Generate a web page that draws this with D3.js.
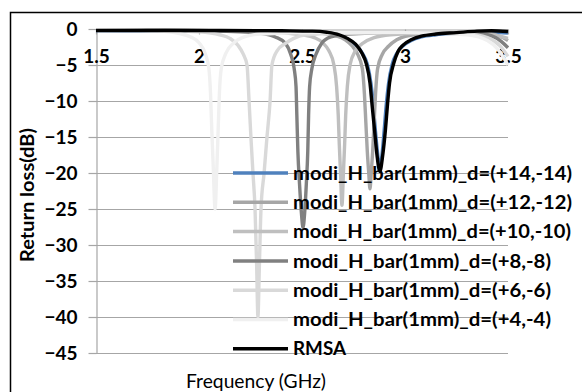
<!DOCTYPE html>
<html>
<head>
<meta charset="utf-8">
<script src="https://cdn.jsdelivr.net/npm/d3@7"></script>
<style>
  body { margin: 0; background: #fff; }
  svg { display: block; font-family: Lato, "Noto Sans", sans-serif; }
</style>
</head>
<body>
<svg id="chart" width="582" height="392"></svg>
<script>
// Return loss vs frequency
var xTicks = [1.5, 2, 2.5, 3, 3.5];
var yTicks = [0, -5, -10, -15, -20, -25, -30, -35, -40, -45];

var seriesNames = [
    "modi_H_bar(1mm)_d=(+14,-14)",
    "modi_H_bar(1mm)_d=(+12,-12)",
    "modi_H_bar(1mm)_d=(+10,-10)",
    "modi_H_bar(1mm)_d=(+8,-8)",
    "modi_H_bar(1mm)_d=(+6,-6)",
    "modi_H_bar(1mm)_d=(+4,-4)",
    "RMSA"
];
var seriesColors = ["#4f81bd", "#a6a6a6", "#bfbfbf", "#808080", "#d9d9d9", "#f0f0f0", "#000000"];

// [GHz, dB]
var d14 = [[1.5,-0.2],[1.8,-0.25],[2.1,-0.3],[2.4,-0.35],[2.55,-0.4],[2.62,-0.55],[2.68,-0.9],[2.72,-1.4],[2.76,-2.2],[2.794,-3.4],[2.817,-4.9],[2.835,-7.6],[2.846,-10.5],[2.856,-14],[2.867,-17.3],[2.878,-19.3],[2.889,-17.3],[2.899,-14],[2.909,-10.5],[2.92,-7.6],[2.938,-4.9],[2.96,-3.4],[2.988,-2.4],[3.03,-1.6],[3.08,-1.1],[3.15,-0.8],[3.25,-0.6],[3.35,-0.45],[3.42,-0.45],[3.5,-0.55]];
var d12 = [[1.5,-0.1],[1.9,-0.2],[2.2,-0.3],[2.45,-0.4],[2.6,-0.6],[2.66,-0.9],[2.71,-1.5],[2.745,-2.4],[2.77,-3.5],[2.793,-5.5],[2.803,-9],[2.81,-13],[2.817,-17],[2.824,-20],[2.83,-22.2],[2.836,-20],[2.843,-17],[2.85,-13],[2.857,-9],[2.867,-5.5],[2.89,-3.5],[2.92,-2.4],[2.96,-1.5],[3.02,-0.9],[3.12,-0.6],[3.3,-0.5],[3.4,-0.6],[3.46,-1.0],[3.5,-1.6]];
var d10 = [[1.5,-0.1],[1.9,-0.2],[2.2,-0.3],[2.4,-0.5],[2.5,-0.8],[2.56,-1.2],[2.6,-1.9],[2.63,-3],[2.655,-5],[2.668,-8],[2.676,-12],[2.681,-16],[2.687,-20],[2.694,-24.5],[2.701,-20],[2.707,-16],[2.712,-12],[2.72,-8],[2.733,-5],[2.76,-3],[2.8,-1.9],[2.85,-1.2],[2.93,-0.8],[3.1,-0.6],[3.3,-0.6],[3.42,-0.8],[3.5,-1.3]];
var d8 = [[1.5,-0.1],[2.0,-0.2],[2.2,-0.4],[2.3,-0.6],[2.37,-1.1],[2.42,-2],[2.445,-3.5],[2.462,-5.5],[2.471,-8],[2.475,-12],[2.48,-17],[2.488,-21.5],[2.497,-25.5],[2.505,-27.6],[2.513,-25.5],[2.521,-21.5],[2.528,-17],[2.532,-12],[2.537,-8],[2.548,-5.5],[2.568,-3.5],[2.595,-2],[2.64,-1.1],[2.72,-0.7],[3.0,-0.5],[3.35,-0.6],[3.44,-1.2],[3.5,-2.6]];
var d6 = [[1.5,-0.1],[1.8,-0.2],[2.0,-0.4],[2.1,-0.8],[2.15,-1.3],[2.19,-2.3],[2.215,-3.5],[2.233,-5],[2.243,-10],[2.252,-15],[2.262,-20],[2.272,-25],[2.28,-33],[2.286,-40],[2.293,-33],[2.301,-25],[2.316,-20],[2.33,-15],[2.345,-10],[2.354,-5],[2.38,-3],[2.42,-2],[2.46,-1.3],[2.52,-0.8],[2.7,-0.6],[3.0,-0.5],[3.3,-0.7],[3.4,-1.2],[3.46,-2.3],[3.5,-3.8]];
var d4 = [[1.5,-0.1],[1.8,-0.3],[1.9,-0.6],[1.96,-1.1],[2.0,-1.9],[2.03,-3.4],[2.048,-5.5],[2.056,-9],[2.062,-14],[2.069,-19],[2.078,-25],[2.087,-19],[2.093,-14],[2.099,-9],[2.108,-5.5],[2.13,-3.4],[2.17,-1.9],[2.22,-1.1],[2.3,-0.7],[2.6,-0.5],[3.0,-0.5],[3.3,-0.8],[3.4,-1.6],[3.45,-2.8],[3.5,-5]];
var dRMSA = [[1.5,-0.2],[1.8,-0.2],[2.1,-0.2],[2.4,-0.25],[2.55,-0.3],[2.62,-0.45],[2.68,-0.8],[2.72,-1.3],[2.76,-2.1],[2.79,-3.3],[2.812,-4.8],[2.83,-7.5],[2.84,-10.5],[2.852,-14],[2.864,-17.5],[2.878,-19.8],[2.892,-17.5],[2.905,-14],[2.915,-10.5],[2.925,-7.5],[2.945,-4.8],[2.965,-3.2],[2.992,-2.2],[3.03,-1.5],[3.08,-1.0],[3.15,-0.7],[3.25,-0.5],[3.35,-0.3],[3.42,-0.25],[3.5,-0.35]];

var seriesData = [d14, d12, d10, d8, d6, d4, dRMSA];

var svg = d3.select("#chart");

// outer frame (right/bottom edges fall outside the picture)
svg.append("rect")
    .attr("x", 10.5).attr("y", 12.5)
    .attr("width", 600).attr("height", 400)
    .attr("fill", "none").attr("stroke", "#000").attr("stroke-width", 1.5);

var x = d3.scaleLinear().domain([1.5, 3.5]).range([96, 508]);
var y = d3.scaleLinear().domain([0, -45]).range([29, 353]);

// horizontal gridlines
svg.append("g").selectAll("line")
    .data(yTicks.filter(function (d) { return d !== 0; }))
    .enter().append("line")
    .attr("x1", x(1.5)).attr("x2", x(3.5))
    .attr("y1", function (d) { return y(d) + 0.5; })
    .attr("y2", function (d) { return y(d) + 0.5; })
    .attr("stroke", "#a6a6a6").attr("stroke-width", 1.2);

// y axis
var yAxis = svg.append("g")
    .attr("transform", "translate(" + (x(1.5) + 0.5) + ",0)")
    .call(d3.axisLeft(y).tickValues(yTicks).tickSize(8).tickSizeOuter(0).tickPadding(11));
yAxis.select(".domain").attr("stroke", "#a6a6a6").attr("stroke-width", 1.2);
yAxis.selectAll(".tick line").attr("stroke", "#a6a6a6").attr("stroke-width", 1.2);
yAxis.selectAll("text")
    .attr("fill", "#000").attr("font-size", 19).attr("font-weight", "bold")
    .attr("font-family", "Lato, sans-serif");

// x axis sits on the 0 dB line
var xAxis = svg.append("g")
    .attr("transform", "translate(0," + (y(0) + 0.5) + ")")
    .call(d3.axisBottom(x).tickValues(xTicks).tickSize(5).tickSizeOuter(0).tickPadding(15)
        .tickFormat(d3.format("")));
xAxis.select(".domain").attr("stroke", "#a6a6a6").attr("stroke-width", 1.2);
xAxis.selectAll(".tick line").attr("stroke", "#a6a6a6").attr("stroke-width", 1.2);
xAxis.selectAll("text")
    .attr("fill", "#000").attr("font-size", 19).attr("font-weight", "bold")
    .attr("font-family", "Lato, sans-serif");

// curves
var line = d3.line()
    .x(function (d) { return x(d[0]); })
    .y(function (d) { return y(d[1]); })
    .curve(d3.curveMonotoneX);

svg.append("g").selectAll("path")
    .data(seriesData)
    .enter().append("path")
    .attr("d", line)
    .attr("fill", "none")
    .attr("stroke", function (d, i) { return seriesColors[i]; })
    .attr("stroke-width", 3.4)
    .attr("stroke-linejoin", "round");

// legend (no box, drawn over the plot)
var legendW = [279, 279, 278, 258, 258, 258, 53];
var legend = svg.append("g").selectAll("g")
    .data(seriesNames)
    .enter().append("g")
    .attr("transform", function (d, i) { return "translate(233," + (173 + i * 29.3) + ")"; });
legend.append("line")
    .attr("x1", 0).attr("x2", 55)
    .attr("stroke", function (d, i) { return seriesColors[i]; })
    .attr("stroke-width", 3.5);
legend.append("text")
    .attr("x", 60).attr("dy", "0.35em")
    .attr("font-size", 19).attr("font-weight", "bold")
    .attr("textLength", function (d, i) { return legendW[i]; })
    .attr("lengthAdjust", "spacingAndGlyphs")
    .text(function (d) { return d; });

// axis titles
svg.append("text")
    .attr("transform", "translate(34,195) rotate(-90)")
    .attr("text-anchor", "middle")
    .attr("font-size", 19).attr("font-weight", "bold")
    .attr("textLength", 134).attr("lengthAdjust", "spacingAndGlyphs")
    .text("Return loss(dB)");

svg.append("text")
    .attr("x", 256).attr("y", 388)
    .attr("text-anchor", "middle")
    .attr("font-size", 19)
    .attr("textLength", 140).attr("lengthAdjust", "spacingAndGlyphs")
    .text("Frequency (GHz)");
</script>
</body>
</html>
